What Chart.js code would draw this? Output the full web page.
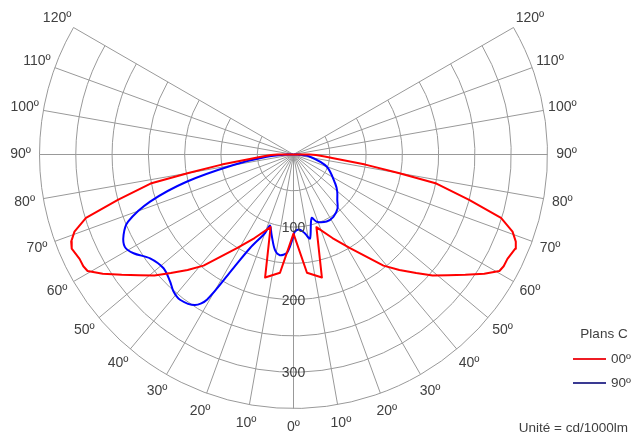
<!DOCTYPE html>
<html>
<head>
<meta charset="utf-8">
<script src="https://cdn.jsdelivr.net/npm/chart.js@4/dist/chart.umd.min.js"></script>
<style>
  html, body { margin: 0; padding: 0; background: #ffffff; }
  #wrap { width: 632px; height: 435px; }
</style>
</head>
<body>
<div id="wrap"><canvas id="photometry" width="632" height="435"></canvas></div>
<script>
// Luminous intensity distribution (cd/1000lm) against gamma angle from nadir.
// Plane C0/C180 (symmetric) and planes C90 / C270.
const gammaC0 = [0, 6.5, 13, 17.5, 25, 31, 39, 42.5, 46, 49, 52, 55, 58, 60.5, 62, 64, 67, 68.6, 70.6, 73, 75.5, 78.5, 80, 82, 84.5, 86.5, 88.7, 90, 95];
const intensityC0 = [109, 164, 174, 105, 127, 150, 197, 216, 235, 254, 270, 289, 310, 326, 328, 328, 332, 329, 320, 299, 250, 201, 147, 100, 57, 43, 31, 22, 0];

const gammaC270 = [0, 2.2, 3.9, 7.7, 11, 15.2, 18.4, 19.9, 24.9, 27.9, 30.8, 33.2, 38, 41.2, 44.2, 48.8, 54.1, 58.3, 61.3, 64.7, 67.9, 71.8, 75.7, 80.1, 85.3, 90, 95];
const intensityC270 = [112, 127, 136, 140, 134, 115, 103, 115, 142, 177, 233, 248, 254, 251, 244, 238, 244, 259, 265, 259, 246, 208, 152, 84, 37, 8, 0];

const gammaC90 = [1.1, 4.9, 8.3, 11.1, 15.9, 19, 26.3, 32.6, 39.2, 43.9, 49.7, 55.2, 69.8, 82.4, 90, 95];
const intensityC90 = [106, 104, 110, 118, 91, 98, 103, 102, 96, 87, 79, 70, 49, 23, 6, 0];

// Grid definition
const ringValues = [50, 100, 150, 200, 250, 300, 350];
const ringLabels = [100, 200, 300];
const spokeAngles = [0, 10, 20, 30, 40, 50, 60, 70, 80, 90, 100, 110, 120];
const seriesNames = ['00º', '90º'];
const legendTitle = 'Plans C';
const unitText = 'Unité = cd/1000lm';

// Plot geometry in pixels (centre of the diagram and pixels per cd)
const W = 632, H = 435;
const CX = 293.5, CY = 154.5;
const PX_PER_CD = 254 / 350;

function toXY(gammaDeg, value, side) {
  const g = gammaDeg * Math.PI / 180;
  return { x: side * value * Math.sin(g), y: -value * Math.cos(g) };
}

// Left half runs from 90° down to nadir, then the right half back up to 90°.
function buildPath(leftG, leftV, rightG, rightV) {
  const pts = [];
  for (let i = leftG.length - 1; i >= 0; i--) pts.push(toXY(leftG[i], leftV[i], -1));
  for (let i = 0; i < rightG.length; i++) pts.push(toXY(rightG[i], rightV[i], 1));
  return pts;
}

const redPath = buildPath(gammaC0, intensityC0, gammaC0.slice(1), intensityC0.slice(1));
const bluePath = buildPath(gammaC270, intensityC270, gammaC90, intensityC90);

const FONT = '"Liberation Sans", Arial, Helvetica, sans-serif';
const TEXT = '#404040';
const GRID = '#999999';

const polarGrid = {
  id: 'polarGrid',
  beforeDatasetsDraw(chart) {
    const ctx = chart.ctx;
    const xs = chart.scales.x, ys = chart.scales.y;
    const cx = xs.getPixelForValue(0), cy = ys.getPixelForValue(0);
    const rOf = v => xs.getPixelForValue(v) - cx;
    const rMax = rOf(ringValues[ringValues.length - 1]);
    ctx.save();
    ctx.strokeStyle = GRID;
    ctx.lineWidth = 1;
    // arcs from gamma 120° on the left, through nadir, to 120° on the right
    ringValues.forEach(v => {
      ctx.beginPath();
      ctx.arc(cx, cy, rOf(v), -Math.PI / 6, Math.PI + Math.PI / 6, false);
      ctx.stroke();
    });
    spokeAngles.forEach(a => {
      [-1, 1].forEach(side => {
        if (a === 0 && side < 0) return;
        const g = a * Math.PI / 180;
        ctx.beginPath();
        ctx.moveTo(cx, cy);
        ctx.lineTo(cx + side * rMax * Math.sin(g), cy + rMax * Math.cos(g));
        ctx.stroke();
      });
    });
    ctx.restore();
  },
  afterDraw(chart) {
    const ctx = chart.ctx;
    const xs = chart.scales.x, ys = chart.scales.y;
    const cx = xs.getPixelForValue(0), cy = ys.getPixelForValue(0);
    const rOf = v => xs.getPixelForValue(v) - cx;
    const rLab = rOf(ringValues[ringValues.length - 1]) + 19;
    ctx.save();
    ctx.fillStyle = TEXT;
    ctx.textAlign = 'center';
    ctx.textBaseline = 'middle';
    ctx.font = '14px ' + FONT;
    spokeAngles.forEach(a => {
      [-1, 1].forEach(side => {
        if (a === 0 && side < 0) return;
        const g = a * Math.PI / 180;
        ctx.fillText(a + 'º', cx + side * rLab * Math.sin(g), cy + rLab * Math.cos(g));
      });
    });
    ringLabels.forEach(v => {
      ctx.fillText(String(v), cx, cy + rOf(v) + 1);
    });

    // legend
    ctx.font = '13.5px ' + FONT;
    ctx.fillText(legendTitle, 604, 334);
    const legendColors = ['#ee1c24', '#3a3a92'];
    const rows = [359, 383];
    ctx.textAlign = 'left';
    rows.forEach((y, i) => {
      ctx.strokeStyle = legendColors[i];
      ctx.lineWidth = 2;
      ctx.beginPath();
      ctx.moveTo(573, y);
      ctx.lineTo(606, y);
      ctx.stroke();
      ctx.fillText(seriesNames[i], 611, y);
    });
    ctx.textAlign = 'right';
    ctx.fillText(unitText, 628, 428);
    ctx.restore();
  }
};

new Chart(document.getElementById('photometry'), {
  type: 'scatter',
  data: {
    datasets: [
      {
        label: seriesNames[0],
        data: redPath,
        showLine: true,
        borderColor: '#ff0000',
        borderWidth: 2,
        pointRadius: 0,
        tension: 0,
        borderJoinStyle: 'round',
        borderCapStyle: 'round'
      },
      {
        label: seriesNames[1],
        data: bluePath,
        showLine: true,
        borderColor: '#0000ff',
        borderWidth: 2,
        pointRadius: 0,
        tension: 0.3,
        borderJoinStyle: 'round',
        borderCapStyle: 'round'
      }
    ]
  },
  options: {
    responsive: false,
    animation: false,
    layout: { padding: 0 },
    plugins: { legend: { display: false }, tooltip: { enabled: false } },
    scales: {
      x: { type: 'linear', display: false, min: -CX / PX_PER_CD, max: (W - CX) / PX_PER_CD },
      y: { type: 'linear', display: false, min: -(H - CY) / PX_PER_CD, max: CY / PX_PER_CD }
    }
  },
  plugins: [polarGrid]
});
</script>
</body>
</html>
